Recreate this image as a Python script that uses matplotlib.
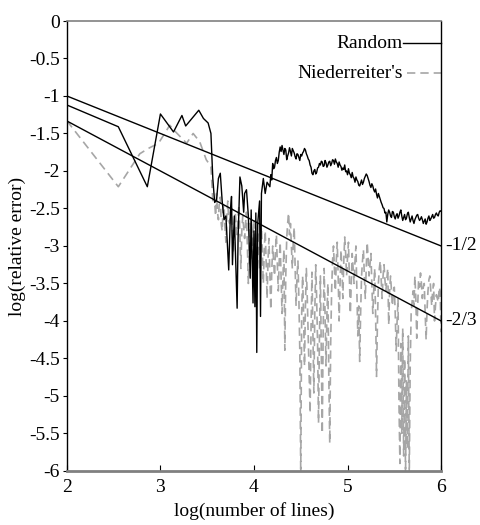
import matplotlib
matplotlib.use("Agg")
import matplotlib.pyplot as plt

plt.rcParams['font.family'] = ['Liberation Serif', 'DejaVu Serif']

# Random sampling, (log lines, log error)
random_pts = [
    (2.00, -1.12), (2.55, -1.41), (2.86, -2.21), (3.00, -1.24), (3.14, -1.48), (3.23, -1.26),
    (3.27, -1.40), (3.41, -1.19), (3.46, -1.30), (3.51, -1.36), (3.54, -1.50), (3.56, -2.10),
    (3.58, -2.42), (3.60, -2.39), (3.62, -2.10), (3.64, -2.03), (3.66, -2.40), (3.68, -2.65),
    (3.70, -2.60), (3.73, -3.32), (3.75, -2.50), (3.76, -2.34), (3.77, -3.25), (3.79, -2.60),
    (3.82, -3.83), (3.83, -2.90), (3.85, -2.08), (3.87, -2.20), (3.89, -2.55), (3.90, -2.30),
    (3.92, -2.25), (3.94, -2.60), (3.96, -3.43), (3.97, -2.52), (3.99, -3.76), (4.00, -2.80),
    (4.01, -3.81), (4.02, -2.56), (4.03, -4.42), (4.04, -2.70), (4.06, -2.40), (4.07, -3.94),
    (4.08, -2.30), (4.10, -2.10), (4.12, -2.30), (4.14, -2.15),
    (4.17, -2.21), (4.18, -2.05), (4.19, -2.12), (4.20, -1.90), (4.21, -1.97), (4.22, -1.95),
    (4.23, -1.86), (4.24, -1.82), (4.25, -1.90), (4.26, -1.86), (4.27, -1.75), (4.28, -1.68),
    (4.29, -1.74), (4.30, -1.66), (4.31, -1.72), (4.32, -1.78), (4.33, -1.70), (4.34, -1.72),
    (4.35, -1.85), (4.36, -1.80), (4.37, -1.76), (4.38, -1.69), (4.39, -1.74), (4.40, -1.80),
    (4.41, -1.70), (4.42, -1.73), (4.43, -1.76), (4.44, -1.81), (4.45, -1.84), (4.46, -1.77),
    (4.47, -1.78), (4.48, -1.82), (4.49, -1.86), (4.50, -1.78), (4.51, -1.80), (4.52, -1.76),
    (4.53, -1.74), (4.54, -1.70), (4.55, -1.72), (4.56, -1.77), (4.57, -1.80), (4.58, -1.84),
    (4.59, -1.86), (4.60, -1.92), (4.61, -1.95), (4.62, -2.03), (4.63, -2.05), (4.64, -2.00),
    (4.65, -1.98), (4.66, -2.04), (4.67, -2.02), (4.68, -1.96), (4.69, -1.95), (4.70, -1.90),
    (4.71, -1.92), (4.72, -1.87), (4.73, -1.88), (4.74, -1.94), (4.75, -1.93), (4.76, -1.86),
    (4.77, -1.89), (4.78, -1.95), (4.79, -1.92), (4.80, -1.88), (4.81, -1.87), (4.82, -1.93),
    (4.83, -1.90), (4.84, -1.85), (4.85, -1.86), (4.86, -1.91), (4.87, -1.84), (4.88, -1.88),
    (4.89, -1.90), (4.90, -1.95), (4.91, -1.88), (4.92, -1.92), (4.93, -1.94), (4.94, -1.99),
    (4.95, -1.96), (4.96, -1.98), (4.97, -1.92), (4.98, -2.01), (4.99, -2.00), (5.00, -2.05),
    (5.01, -1.97), (5.02, -2.03), (5.03, -2.05), (5.04, -2.09), (5.05, -2.02), (5.06, -2.08),
    (5.07, -2.10), (5.08, -2.15), (5.09, -2.08), (5.10, -2.12), (5.11, -2.14), (5.12, -2.19),
    (5.13, -2.20), (5.14, -2.16), (5.15, -2.12), (5.16, -2.18), (5.17, -2.15), (5.18, -2.10),
    (5.19, -2.07), (5.20, -2.04), (5.21, -2.06), (5.22, -2.10), (5.23, -2.14), (5.24, -2.19),
    (5.25, -2.22), (5.26, -2.17), (5.27, -2.20), (5.28, -2.25), (5.29, -2.28), (5.30, -2.24),
    (5.31, -2.31), (5.32, -2.36), (5.33, -2.30), (5.34, -2.34), (5.35, -2.38), (5.36, -2.42),
    (5.37, -2.45), (5.38, -2.49), (5.39, -2.50), (5.40, -2.56), (5.41, -2.55), (5.42, -2.68),
    (5.43, -2.58), (5.44, -2.52), (5.45, -2.55), (5.46, -2.60), (5.47, -2.62), (5.48, -2.54),
    (5.49, -2.55), (5.50, -2.61), (5.51, -2.64), (5.52, -2.59), (5.53, -2.57), (5.54, -2.63),
    (5.55, -2.60), (5.56, -2.55), (5.57, -2.52), (5.58, -2.60), (5.59, -2.66), (5.60, -2.62),
    (5.61, -2.58), (5.62, -2.65), (5.63, -2.63), (5.64, -2.57), (5.65, -2.55), (5.66, -2.62),
    (5.67, -2.68), (5.68, -2.64), (5.69, -2.60), (5.70, -2.66), (5.71, -2.70), (5.72, -2.65),
    (5.73, -2.62), (5.74, -2.59), (5.75, -2.58), (5.76, -2.63), (5.77, -2.66), (5.78, -2.64),
    (5.79, -2.61), (5.80, -2.65), (5.81, -2.70), (5.82, -2.67), (5.83, -2.64), (5.84, -2.71),
    (5.85, -2.68), (5.86, -2.63), (5.87, -2.60), (5.88, -2.66), (5.89, -2.64), (5.90, -2.61),
    (5.91, -2.58), (5.92, -2.63), (5.93, -2.62), (5.94, -2.58), (5.95, -2.56), (5.96, -2.59),
    (5.97, -2.60), (5.98, -2.55), (5.99, -2.53), (6.00, -2.54),
]

# Niederreiter's sequence, (log lines, log error)
nied_pts = [
    (2.00, -1.33), (2.55, -2.21), (2.78, -1.77), (2.87, -1.70), (2.98, -1.63), (3.10, -1.39),
    (3.14, -1.45), (3.21, -1.54), (3.28, -1.63), (3.35, -1.50), (3.42, -1.61), (3.49, -1.85),
    (3.54, -1.94), (3.56, -2.39),
    (3.58, -2.42), (3.59, -2.60), (3.60, -2.30), (3.61, -2.55), (3.62, -2.65), (3.63, -2.40),
    (3.64, -2.35), (3.65, -2.70), (3.66, -2.80), (3.67, -2.50), (3.68, -2.45), (3.69, -2.75),
    (3.70, -2.95), (3.71, -2.60), (3.72, -2.40), (3.73, -2.65), (3.74, -2.70), (3.75, -2.55),
    (3.76, -2.50), (3.77, -2.85), (3.78, -3.10), (3.79, -2.70), (3.80, -2.55), (3.81, -2.75),
    (3.82, -2.85), (3.83, -2.60), (3.84, -2.45), (3.85, -2.90), (3.86, -3.30), (3.87, -2.80),
    (3.88, -2.60), (3.89, -2.75), (3.90, -2.90), (3.91, -2.70), (3.92, -2.55), (3.93, -3.00),
    (3.94, -3.50), (3.95, -3.05), (3.96, -2.70), (3.97, -2.90), (3.98, -3.20), (3.99, -2.85),
    (4.00, -2.65), (4.01, -3.10), (4.02, -3.60), (4.03, -3.00), (4.04, -2.80), (4.05, -3.05),
    (4.06, -3.30), (4.07, -2.95), (4.08, -2.75), (4.09, -3.10), (4.10, -3.50), (4.11, -3.05),
    (4.12, -2.80), (4.13, -3.20), (4.14, -3.70), (4.15, -3.20), (4.16, -2.90), (4.17, -3.40),
    (4.18, -3.85), (4.19, -3.35), (4.20, -3.00), (4.21, -3.20), (4.22, -3.40), (4.23, -3.05),
    (4.24, -2.85), (4.25, -3.25), (4.26, -3.60), (4.27, -3.20), (4.28, -2.95), (4.29, -3.45),
    (4.30, -3.90), (4.31, -3.40), (4.32, -3.05), (4.33, -4.39), (4.34, -3.40), (4.35, -2.90),
    (4.36, -2.70), (4.37, -2.56), (4.38, -2.85), (4.39, -2.70), (4.40, -3.00), (4.41, -3.30),
    (4.42, -2.95), (4.43, -2.75), (4.44, -3.30), (4.45, -3.80), (4.46, -3.40), (4.47, -3.20),
    (4.48, -3.70), (4.49, -4.40), (4.50, -6.05), (4.51, -3.90), (4.52, -3.40), (4.53, -3.90),
    (4.54, -4.60), (4.55, -3.80), (4.56, -3.30), (4.57, -3.70), (4.58, -4.20), (4.59, -4.70),
    (4.60, -5.23), (4.61, -4.10), (4.62, -3.35), (4.63, -4.20), (4.64, -4.96), (4.65, -3.90),
    (4.66, -3.25), (4.67, -3.70), (4.68, -4.30), (4.69, -5.36), (4.70, -4.20), (4.71, -3.40),
    (4.72, -4.40), (4.73, -5.50), (4.74, -4.10), (4.75, -3.30), (4.76, -3.90), (4.77, -4.60),
    (4.78, -3.90), (4.79, -3.50), (4.80, -4.75), (4.81, -5.63), (4.82, -4.30), (4.83, -3.60),
    (4.84, -3.20), (4.85, -3.00), (4.86, -3.30), (4.87, -3.60), (4.88, -3.20), (4.89, -2.95),
    (4.90, -3.40), (4.91, -4.00), (4.92, -3.50), (4.93, -3.05), (4.94, -3.30), (4.95, -3.70),
    (4.96, -3.20), (4.97, -2.88), (4.98, -3.10), (4.99, -3.40), (5.00, -3.15), (5.01, -2.95),
    (5.02, -3.40), (5.03, -3.90), (5.04, -3.50), (5.05, -3.10), (5.06, -3.30), (5.07, -3.50),
    (5.08, -3.20), (5.09, -3.00), (5.10, -3.60), (5.11, -4.20), (5.12, -3.80), (5.13, -4.54),
    (5.14, -3.90), (5.15, -3.40), (5.16, -3.20), (5.17, -3.05), (5.18, -3.40), (5.19, -3.70),
    (5.20, -3.30), (5.21, -2.95), (5.22, -3.15), (5.23, -3.40), (5.24, -3.25), (5.25, -3.10),
    (5.26, -3.50), (5.27, -3.90), (5.28, -3.60), (5.29, -3.30), (5.30, -3.90), (5.31, -4.74),
    (5.32, -4.00), (5.33, -3.50), (5.34, -3.30), (5.35, -3.20), (5.36, -3.45), (5.37, -3.70),
    (5.38, -3.40), (5.39, -3.25), (5.40, -3.45), (5.41, -3.60), (5.42, -3.45), (5.43, -3.30),
    (5.44, -4.05), (5.45, -3.60), (5.46, -3.40), (5.47, -3.60), (5.48, -3.80), (5.49, -3.60),
    (5.50, -3.55), (5.51, -3.90), (5.52, -4.40), (5.53, -4.00), (5.54, -3.70), (5.55, -5.10),
    (5.56, -5.90), (5.57, -4.30), (5.58, -5.50), (5.59, -4.10), (5.60, -5.80), (5.61, -4.50),
    (5.62, -6.05), (5.63, -4.80), (5.64, -5.70), (5.65, -4.20), (5.66, -6.05), (5.67, -4.60),
    (5.68, -3.90), (5.69, -3.75), (5.70, -3.60), (5.71, -3.80), (5.72, -3.40), (5.73, -3.70),
    (5.74, -4.23), (5.75, -3.80), (5.76, -3.45), (5.77, -3.55), (5.78, -3.36), (5.79, -3.50),
    (5.80, -3.70), (5.81, -3.55), (5.82, -3.50), (5.83, -3.90), (5.84, -4.25), (5.85, -3.85),
    (5.86, -3.60), (5.87, -3.45), (5.88, -3.40), (5.89, -3.60), (5.90, -3.80), (5.91, -3.60),
    (5.92, -3.50), (5.93, -4.00), (5.94, -3.80), (5.95, -3.65), (5.96, -3.70), (5.97, -3.75),
    (5.98, -3.55), (5.99, -3.60), (6.00, -4.15),
]

# reference slopes
slope_x = [2, 6]
half_y = [-1.0, -3.0]
two_thirds_y = [-4.0 / 3.0, -4.0]

yticks = [0, -0.5, -1, -1.5, -2, -2.5, -3, -3.5, -4, -4.5, -5, -5.5, -6]
ytick_labels = ['0', '-0.5', '-1', '-1.5', '-2', '-2.5', '-3', '-3.5', '-4', '-4.5', '-5', '-5.5', '-6']
xticks = [2, 3, 4, 5, 6]

random_x = [p[0] for p in random_pts]
random_y = [p[1] for p in random_pts]
nied_x = [p[0] for p in nied_pts]
nied_y = [p[1] for p in nied_pts]

fig = plt.figure(figsize=(4.81, 5.25), dpi=100)
ax = fig.add_axes([0.139, 0.103, 0.778, 0.857])

ax.plot(nied_x, nied_y, color='#a6a6a6', lw=1.2, dashes=(5, 3))
ax.plot(random_x, random_y, color='black', lw=1.0)
ax.plot(slope_x, half_y, color='black', lw=1.0)
ax.plot(slope_x, two_thirds_y, color='black', lw=1.0)

ax.set_xlim(2, 6)
ax.set_ylim(-6, 0)
ax.set_xticks(xticks)
ax.set_yticks(yticks)
ax.set_yticklabels(ytick_labels)
ax.tick_params(axis='x', direction='in', length=4, labelsize=14, pad=6)
ax.tick_params(axis='y', direction='out', length=3, labelsize=14, pad=2)

for side in ['left', 'right']:
    ax.spines[side].set_color('black')
    ax.spines[side].set_linewidth(1.0)
ax.spines['top'].set_color('#808080')
ax.spines['top'].set_linewidth(1.2)
ax.spines['bottom'].set_color('#808080')
ax.spines['bottom'].set_linewidth(2.0)

ax.set_xlabel('log(number of lines)', fontsize=14, labelpad=4)
ax.set_ylabel('log(relative error)', fontsize=14, labelpad=2)

# slope labels at right
ax.text(6.04, -3.0, '-1/2', fontsize=14, va='center', ha='left', clip_on=False)
ax.text(6.04, -4.0, '-2/3', fontsize=14, va='center', ha='left', clip_on=False)

# legend, drawn by hand
ax.text(0.898, 0.951, 'Random', transform=ax.transAxes, fontsize=14, ha='right', va='center')
ax.plot([0.898, 1.0], [0.951, 0.951], transform=ax.transAxes, color='black', lw=1.0, clip_on=False)
ax.text(0.898, 0.884, "Niederreiter's", transform=ax.transAxes, fontsize=14, ha='right', va='center')
ax.plot([0.91, 1.0], [0.884, 0.884], transform=ax.transAxes, color='#a6a6a6', lw=1.2,
        dashes=(5, 3), clip_on=False)

fig.savefig('out.png', dpi=100)
